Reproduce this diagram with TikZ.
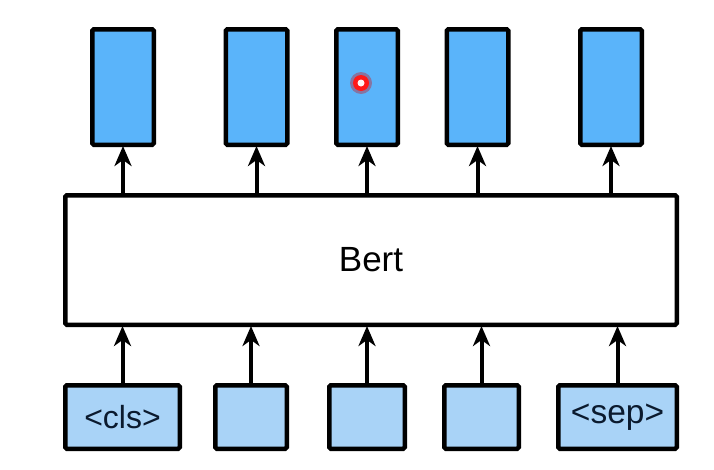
\documentclass[tikz,border=0pt]{standalone}
\usepackage{fontspec}
\setmainfont{Liberation Sans}
\usetikzlibrary{arrows.meta}
\definecolor{topblue}{HTML}{5AB4FA}
\definecolor{botblue}{HTML}{A9D3F7}
\definecolor{txtnavy}{HTML}{0B1A2E}
\tikzset{
  x=1pt,y=1pt,
  box/.style={draw=black, line width=4.5pt, rounded corners=1.5pt, inner sep=0pt},
  topbox/.style={box, fill=topblue, minimum width=61.5pt, minimum height=115.5pt},
  botbox/.style={box, fill=botblue, minimum height=63.5pt, text=txtnavy},
  arr/.style={line width=4pt, -{Stealth[length=20pt,width=17pt,inset=6pt]}, shorten >=-1pt},
}
\begin{document}
\begin{tikzpicture}
\useasboundingbox (0,0) rectangle (714,-469);
% top outputs
\node[topbox] (t1) at (123,-87) {};
\node[topbox] (t2) at (256.5,-87) {};
\node[topbox] (t3) at (367,-87) {};
\node[topbox] (t4) at (477.5,-87) {};
\node[topbox] (t5) at (611,-87) {};
% Bert
\node[box, fill=white, minimum width=611.5pt, minimum height=129.5pt,
      font=\fontsize{35}{40}\selectfont] (bert) at (371,-260) {Bert};
% bottom inputs
\node[botbox, minimum width=114.5pt, font=\fontsize{32}{36}\selectfont] (b1) at (122.5,-417) {<cls>};
\node[botbox, minimum width=71.5pt] (b2) at (251,-417) {};
\node[botbox, minimum width=75.5pt] (b3) at (367,-417) {};
\node[botbox, minimum width=74.5pt] (b4) at (481.5,-417) {};
\node[botbox, minimum width=118.5pt, font=\fontsize{33.5}{38}\selectfont] (b5) at (617.5,-417) {<sep>};
% arrows into and out of Bert
\foreach \i in {1,...,5}{
  \draw[arr] (b\i.north) -- (b\i.north |- bert.south);
  \draw[arr] (t\i.south |- bert.north) -- (t\i.south);
}
% pointer dot
\fill[red!85!black, opacity=0.35] (361,-83) circle (11);
\fill[red!90!white] (361,-83) circle (8);
\fill[white!85!pink] (361,-83) circle (3.5);
\end{tikzpicture}
\end{document}
